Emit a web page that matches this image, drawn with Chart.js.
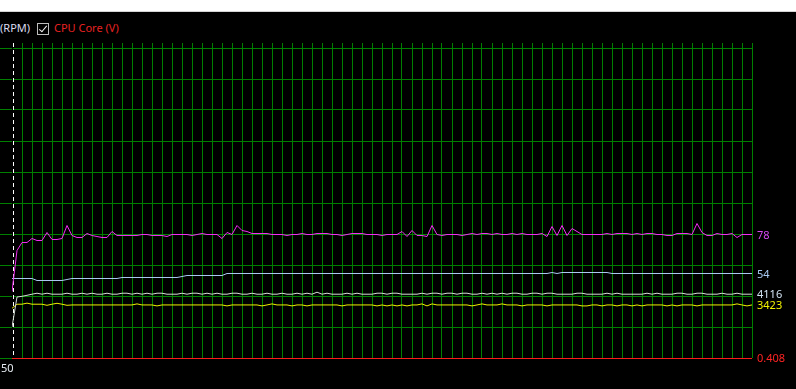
<!DOCTYPE html>
<html>
<head>
<meta charset="utf-8">
<script src="https://cdn.jsdelivr.net/npm/chart.js@4.4.0/dist/chart.umd.min.js"></script>
<style>
  html, body { margin: 0; padding: 0; background: #000; width: 796px; height: 389px; overflow: hidden; }
  #topbar { position: absolute; left: 0; top: 0; width: 796px; height: 11px; background: #fff; border-bottom: 1px solid #d4d4d4; }
  #chart { position: absolute; left: 0; top: 12px; }
  .lg { position: absolute; top: 21px; font: 11px "Noto Sans", sans-serif; line-height: 14px; white-space: nowrap; }
  .rpm { left: 0; color: #dcdcf0; }
  .cpu { left: 54px; color: #e82222; }
  .box { position: absolute; left: 37px; top: 23px; width: 10px; height: 10px; border: 1px solid #bdbdbd; background: #000; }
  .box::after { content: ''; position: absolute; left: 3px; top: 0px; width: 3px; height: 7px; border: solid #f2f2f2; border-width: 0 1.5px 1.5px 0; transform: rotate(40deg); }
</style>
</head>
<body>
<div id="topbar"></div>
<span class="lg rpm">(RPM)</span>
<span class="box"></span>
<span class="lg cpu">CPU Core (V)</span>
<canvas id="chart" width="796" height="377"></canvas>
<script>
// one sample every 5px, 149 samples across the graph
const cpuTemp = [
  21, 62, 70, 70, 74, 72, 72, 80, 73, 73,
  74, 87, 77, 75, 75, 79, 77, 76, 75, 75,
  81, 77, 77, 77, 77, 77, 78, 78, 77, 77,
  77, 76, 78, 78, 78, 78, 77, 78, 79, 78,
  78, 78, 74, 80, 78, 87, 82, 81, 79, 79,
  79, 79, 78, 78, 78, 77, 78, 78, 79, 78,
  78, 79, 79, 79, 78, 78, 77, 78, 79, 79,
  79, 78, 78, 78, 77, 78, 78, 78, 81, 76,
  82, 77, 77, 76, 87, 78, 77, 78, 78, 78,
  77, 78, 79, 78, 79, 79, 78, 79, 78, 78,
  79, 78, 79, 78, 78, 78, 79, 76, 86, 77,
  87, 77, 84, 81, 78, 78, 78, 78, 78, 79,
  78, 79, 79, 79, 78, 79, 78, 79, 79, 78,
  78, 77, 77, 79, 79, 79, 78, 89, 80, 77,
  77, 79, 78, 78, 79, 75, 78, 78, 78
]

const cpuLoad = [
  49, 49, 49, 49, 49, 47, 47, 47, 47, 47,
  47, 48, 49, 49, 49, 49, 49, 49, 49, 49,
  49, 49, 50, 50, 50, 50, 50, 50, 50, 50,
  50, 50, 50, 50, 51, 52, 52, 52, 52, 52,
  52, 52, 52, 54, 54, 54, 54, 54, 54, 54,
  54, 54, 54, 54, 54, 54, 54, 54, 54, 54,
  54, 54, 54, 54, 54, 54, 54, 54, 54, 54,
  54, 54, 54, 54, 54, 54, 54, 54, 54, 54,
  54, 54, 54, 54, 54, 54, 54, 54, 54, 54,
  54, 54, 54, 54, 54, 54, 54, 54, 54, 54,
  54, 54, 54, 54, 54, 54, 54, 54, 55, 54,
  55, 55, 55, 55, 55, 55, 55, 55, 55, 55,
  54, 54, 54, 54, 54, 54, 54, 54, 54, 54,
  54, 54, 54, 54, 54, 54, 54, 54, 54, 54,
  54, 54, 54, 54, 54, 54, 54, 54, 54
]

const fan1 = [
  2000, 3935, 3980, 4045, 4116, 4180, 4116, 4180, 4116, 4116,
  4116, 4180, 4116, 4116, 4180, 4116, 4180, 4116, 4116, 4180,
  4116, 4116, 4180, 4180, 4116, 4180, 4116, 4180, 4116, 4180,
  4180, 4116, 4116, 4116, 4180, 4116, 4180, 4180, 4116, 4180,
  4116, 4180, 4116, 4116, 4180, 4180, 4116, 4116, 4180, 4116,
  4116, 4180, 4116, 4116, 4180, 4116, 4116, 4180, 4116, 4180,
  4116, 4245, 4116, 4180, 4116, 4116, 4116, 4180, 4116, 4180,
  4116, 4116, 4116, 4180, 4180, 4116, 4180, 4180, 4116, 4116,
  4116, 4116, 4180, 4116, 4180, 4180, 4116, 4180, 4180, 4116,
  4180, 4180, 4116, 4116, 4180, 4116, 4180, 4116, 4180, 4116,
  4180, 4180, 4116, 4116, 4180, 4180, 4116, 4180, 4180, 4116,
  4116, 4116, 4116, 4180, 4180, 4116, 4116, 4116, 4116, 4180,
  4116, 4180, 4116, 4116, 4116, 4116, 4116, 4180, 4116, 4180,
  4116, 4116, 4116, 4180, 4180, 4116, 4116, 4180, 4180, 4116,
  4116, 4116, 4180, 4116, 4116, 4180, 4116, 4116, 4116
]

const fan2 = [
  3205, 3470, 3470, 3540, 3470, 3470, 3470, 3400, 3470, 3530,
  3470, 3400, 3423, 3423, 3423, 3423, 3423, 3423, 3423, 3423,
  3423, 3423, 3423, 3423, 3423, 3490, 3423, 3423, 3423, 3360,
  3423, 3423, 3423, 3423, 3423, 3423, 3423, 3423, 3423, 3423,
  3423, 3423, 3423, 3360, 3423, 3423, 3423, 3423, 3423, 3423,
  3360, 3423, 3490, 3423, 3423, 3423, 3360, 3423, 3423, 3360,
  3423, 3423, 3423, 3423, 3423, 3423, 3360, 3423, 3423, 3423,
  3423, 3423, 3423, 3360, 3423, 3360, 3423, 3360, 3423, 3360,
  3423, 3423, 3490, 3360, 3490, 3423, 3423, 3423, 3423, 3423,
  3423, 3423, 3360, 3423, 3490, 3423, 3423, 3423, 3490, 3423,
  3423, 3423, 3360, 3423, 3423, 3423, 3423, 3360, 3423, 3423,
  3423, 3423, 3423, 3423, 3360, 3360, 3423, 3423, 3360, 3423,
  3423, 3360, 3423, 3423, 3360, 3423, 3360, 3423, 3423, 3423,
  3423, 3360, 3423, 3360, 3423, 3423, 3423, 3360, 3423, 3423,
  3423, 3423, 3423, 3423, 3423, 3490, 3423, 3360, 3423
]

const cpuCore = [
  0.408, 0.408, 0.408, 0.408, 0.408, 0.408, 0.408, 0.408, 0.408, 0.408,
  0.408, 0.408, 0.408, 0.408, 0.408, 0.408, 0.408, 0.408, 0.408, 0.408,
  0.408, 0.408, 0.408, 0.408, 0.408, 0.408, 0.408, 0.408, 0.408, 0.408,
  0.408, 0.408, 0.408, 0.408, 0.408, 0.408, 0.408, 0.408, 0.408, 0.408,
  0.408, 0.408, 0.408, 0.408, 0.408, 0.408, 0.408, 0.408, 0.408, 0.408,
  0.408, 0.408, 0.408, 0.408, 0.408, 0.408, 0.408, 0.408, 0.408, 0.408,
  0.408, 0.408, 0.408, 0.408, 0.408, 0.408, 0.408, 0.408, 0.408, 0.408,
  0.408, 0.408, 0.408, 0.408, 0.408, 0.408, 0.408, 0.408, 0.408, 0.408,
  0.408, 0.408, 0.408, 0.408, 0.408, 0.408, 0.408, 0.408, 0.408, 0.408,
  0.408, 0.408, 0.408, 0.408, 0.408, 0.408, 0.408, 0.408, 0.408, 0.408,
  0.408, 0.408, 0.408, 0.408, 0.408, 0.408, 0.408, 0.408, 0.408, 0.408,
  0.408, 0.408, 0.408, 0.408, 0.408, 0.408, 0.408, 0.408, 0.408, 0.408,
  0.408, 0.408, 0.408, 0.408, 0.408, 0.408, 0.408, 0.408, 0.408, 0.408,
  0.408, 0.408, 0.408, 0.408, 0.408, 0.408, 0.408, 0.408, 0.408, 0.408,
  0.408, 0.408, 0.408, 0.408, 0.408, 0.408, 0.408, 0.408, 0.408
]

const startLabel = '50'
const GREEN = '#008000'

const toPoints = arr => arr.map((v, i) => ({ x: i, y: v }))

const lineSet = (data, color, labelColor, axis) => ({
  data: toPoints(data),
  borderColor: color,
  labelColor: labelColor,
  yAxisID: axis,
  borderWidth: 1,
  pointRadius: 0,
  tension: 0,
  fill: false
})

// dashed white marker at the first sample, drawn over the first grid line
const startMarker = {
  id: 'startMarker',
  beforeDatasetsDraw(chart) {
    const { ctx, chartArea, scales } = chart
    const x = Math.round(scales.x.getPixelForValue(0)) + 0.5
    ctx.save()
    ctx.fillStyle = '#000000'
    ctx.fillRect(x - 0.5, chartArea.top - 5, 1, chartArea.bottom - chartArea.top + 5)
    ctx.strokeStyle = '#ffffff'
    ctx.lineWidth = 1
    ctx.setLineDash([4, 3])
    ctx.beginPath()
    ctx.moveTo(x + 1, chartArea.top - 5)
    ctx.lineTo(x + 1, chartArea.bottom)
    ctx.stroke()
    ctx.restore()
  }
}

// current values printed right of the graph
const valueLabels = {
  id: 'valueLabels',
  afterDatasetsDraw(chart) {
    const { ctx, chartArea } = chart
    ctx.save()
    ctx.font = '11px "Noto Sans"'
    ctx.textBaseline = 'middle'
    chart.data.datasets.forEach((ds, i) => {
      const meta = chart.getDatasetMeta(i)
      const last = ds.data[ds.data.length - 1]
      const y = chart.scales[meta.yAxisID].getPixelForValue(last.y)
      ctx.fillStyle = ds.labelColor
      ctx.fillText(String(last.y), chartArea.right + 5, Math.min(y + 1, chartArea.bottom + 1))
    })
    ctx.fillStyle = '#e6ecf2'
    ctx.fillText(startLabel, 1, chartArea.bottom + 11)
    ctx.restore()
  }
}

const redData = lineSet(cpuCore, '#ff1c1c', '#ff2424', 'yVolt')
redData.clip = false

new Chart(document.getElementById('chart'), {
  type: 'line',
  data: {
    datasets: [
      lineSet(cpuTemp, '#f22ef2', '#d848f4', 'yTemp'),
      lineSet(cpuLoad, '#a8c8f0', '#a8caf2', 'yLoad'),
      lineSet(fan1, '#d4dcd4', '#d2e2f2', 'yFan'),
      lineSet(fan2, '#f0f000', '#f2f200', 'yFan'),
      redData
    ]
  },
  options: {
    responsive: false,
    animation: false,
    devicePixelRatio: 1,
    layout: { padding: { top: 31, left: 0, right: 44, bottom: 31 } },
    plugins: { legend: { display: false }, tooltip: { enabled: false } },
    scales: {
      x: {
        type: 'linear', position: 'top', min: 0, max: 148,
        ticks: { display: false, stepSize: 2 },
        grid: { color: GREEN, lineWidth: 1, tickLength: 5 },
        border: { display: false }
      },
      yGrid: {
        axis: 'y', type: 'linear', position: 'left', min: 0, max: 10,
        ticks: { display: false, stepSize: 1 },
        grid: { color: GREEN, lineWidth: 1, tickLength: 12 },
        border: { display: false }
      },
      yTemp: { axis: 'y', type: 'linear', display: false, min: -45.5, max: 264.5 },
      yLoad: { axis: 'y', type: 'linear', display: false, min: -30.5, max: 279.5 },
      yFan: { axis: 'y', type: 'linear', display: false, min: 0, max: 20000 },
      yVolt: { axis: 'y', type: 'linear', display: false, min: 0.41, max: 1.6 }
    }
  },
  plugins: [startMarker, valueLabels]
})
</script>
</body>
</html>
